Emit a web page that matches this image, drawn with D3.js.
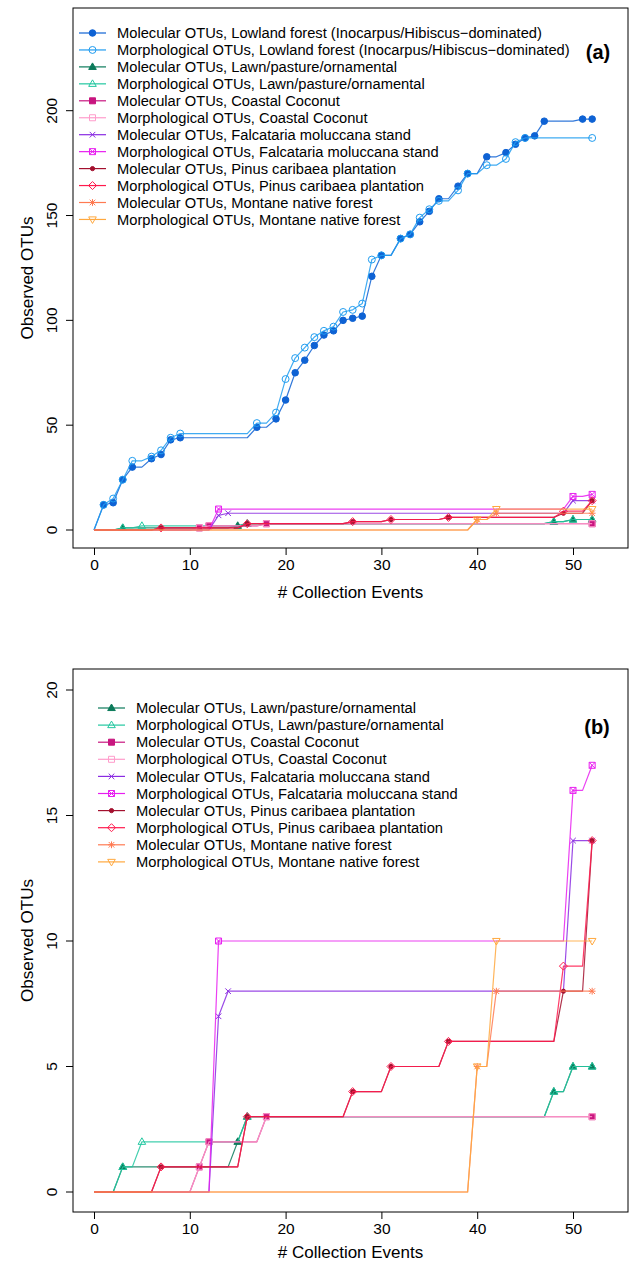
<!DOCTYPE html>
<html>
<head>
<meta charset="utf-8">
<script src="https://cdn.jsdelivr.net/npm/d3@7"></script>
<style>
  html, body { margin: 0; padding: 0; background: #ffffff; }
  svg { display: block; }
  text { font-family: "Liberation Sans", Arial, Helvetica, sans-serif; fill: #000; }
</style>
</head>
<body>
<svg id="chart" width="643" height="1266"></svg>
<script>
// ---------------- DATA ----------------
const events = [0,1,2,3,4,5,6,7,8,9,10,11,12,13,14,15,16,17,18,19,20,21,22,23,24,25,26,27,28,29,30,31,32,33,34,35,36,37,38,39,40,41,42,43,44,45,46,47,48,49,50,51,52];

const lowlandMol = [0,12,13,24,30,30,34,36,43,44, 44,44,44,44,44,44,44,49,49,53, 62,75,81,88,93,95,100,101,102,121, 131,131,139,141,147,152,158,158,164,170, 170,178,178,180,184,187,188,195,195,195, 195,196,196];
const lowlandMorph = [0,12,15,24,33,33,35,38,44,46, 46,46,46,46,46,46,46,51,51,56, 72,82,87,92,95,97,104,105,108,129, 131,131,139,141,149,153,157,157,162,170, 170,174,174,177,185,187,187,187,187,187, 187,187,187];
const lawnMol = [0,0,0,1,1,1,1,1,1,1, 1,1,1,1,1,2,3,3,3,3, 3,3,3,3,3,3,3,3,3,3, 3,3,3,3,3,3,3,3,3,3, 3,3,3,3,3,3,3,3,4,4, 5,5,5];
const lawnMorph = [0,0,0,1,1,2,2,2,2,2, 2,2,2,2,2,2,3,3,3,3, 3,3,3,3,3,3,3,3,3,3, 3,3,3,3,3,3,3,3,3,3, 3,3,3,3,3,3,3,3,4,4, 5,5,5];
const coastalMol = [0,0,0,0,0,0,0,0,0,0, 0,1,2,2,2,2,2,2,3,3, 3,3,3,3,3,3,3,3,3,3, 3,3,3,3,3,3,3,3,3,3, 3,3,3,3,3,3,3,3,3,3, 3,3,3];
const coastalMorph = [0,0,0,0,0,0,0,0,0,0, 0,1,2,2,2,2,2,2,3,3, 3,3,3,3,3,3,3,3,3,3, 3,3,3,3,3,3,3,3,3,3, 3,3,3,3,3,3,3,3,3,3, 3,3,3];
const falcMol = [0,0,0,0,0,0,0,0,0,0, 0,0,0,7,8,8,8,8,8,8, 8,8,8,8,8,8,8,8,8,8, 8,8,8,8,8,8,8,8,8,8, 8,8,8,8,8,8,8,8,8,8, 14,14,14];
const falcMorph = [0,0,0,0,0,0,0,0,0,0, 0,0,0,10,10,10,10,10,10,10, 10,10,10,10,10,10,10,10,10,10, 10,10,10,10,10,10,10,10,10,10, 10,10,10,10,10,10,10,10,10,10, 16,16,17];
const pinusMol = [0,0,0,0,0,0,0,1,1,1, 1,1,1,1,1,1,3,3,3,3, 3,3,3,3,3,3,3,4,4,4, 4,5,5,5,5,5,5,6,6,6, 6,6,6,6,6,6,6,6,6,8, 8,8,14];
const pinusMorph = [0,0,0,0,0,0,0,1,1,1, 1,1,1,1,1,1,3,3,3,3, 3,3,3,3,3,3,3,4,4,4, 4,5,5,5,5,5,5,6,6,6, 6,6,6,6,6,6,6,6,6,9, 9,9,14];
const montaneMol = [0,0,0,0,0,0,0,0,0,0, 0,0,0,0,0,0,0,0,0,0, 0,0,0,0,0,0,0,0,0,0, 0,0,0,0,0,0,0,0,0,0, 5,5,8,8,8,8,8,8,8,8, 8,8,8];
const montaneMorph = [0,0,0,0,0,0,0,0,0,0, 0,0,0,0,0,0,0,0,0,0, 0,0,0,0,0,0,0,0,0,0, 0,0,0,0,0,0,0,0,0,0, 5,5,10,10,10,10,10,10,10,10, 10,10,10];

const seriesLabels = [
  "Molecular OTUs, Lowland forest (Inocarpus/Hibiscus\u2212dominated)",
  "Morphological OTUs, Lowland forest (Inocarpus/Hibiscus\u2212dominated)",
  "Molecular OTUs, Lawn/pasture/ornamental",
  "Morphological OTUs, Lawn/pasture/ornamental",
  "Molecular OTUs, Coastal Coconut",
  "Morphological OTUs, Coastal Coconut",
  "Molecular OTUs, Falcataria moluccana stand",
  "Morphological OTUs, Falcataria moluccana stand",
  "Molecular OTUs, Pinus caribaea plantation",
  "Morphological OTUs, Pinus caribaea plantation",
  "Molecular OTUs, Montane native forest",
  "Morphological OTUs, Montane native forest"
];
const seriesValues = [lowlandMol, lowlandMorph, lawnMol, lawnMorph, coastalMol, coastalMorph,
                      falcMol, falcMorph, pinusMol, pinusMorph, montaneMol, montaneMorph];
const seriesColors = ["#0e62d4", "#1f9cf0", "#0b7a5a", "#22c7a0", "#c8157f", "#ff9ccb",
                      "#8a2be2", "#e81ef0", "#a3102e", "#ff1a4d", "#ff7a52", "#ffa83e"];
const seriesMarkers = ["circleFilled", "circleOpen", "triFilled", "triOpen", "squareFilled", "squareOpen",
                       "cross", "boxCross", "dot", "diamondOpen", "asterisk", "triDown"];

const xTicks = [0, 10, 20, 30, 40, 50];
const yTicksA = [0, 50, 100, 150, 200];
const yTicksB = [0, 5, 10, 15, 20];

// ---------------- DRAWING ----------------
const svg = d3.select("#chart");
svg.append("rect").attr("width", 643).attr("height", 1266).attr("fill", "#fff");

function markerShape(type) {
  const s = 3.4;
  switch (type) {
    case "circleFilled": return {d: d3.symbol(d3.symbolCircle, 34)(), fill: true};
    case "circleOpen":   return {d: d3.symbol(d3.symbolCircle, 38)(), fill: false};
    case "dot":          return {d: d3.symbol(d3.symbolCircle, 14)(), fill: true};
    case "triFilled":    return {d: `M0,${-s-0.6}L${s+0.4},${s*0.75}L${-s-0.4},${s*0.75}Z`, fill: true};
    case "triOpen":      return {d: `M0,${-s-0.6}L${s+0.4},${s*0.75}L${-s-0.4},${s*0.75}Z`, fill: false};
    case "triDown":      return {d: `M0,${s+0.6}L${s+0.4},${-s*0.75}L${-s-0.4},${-s*0.75}Z`, fill: false};
    case "squareFilled": return {d: `M${-s+0.4},${-s+0.4}H${s-0.4}V${s-0.4}H${-s+0.4}Z`, fill: true};
    case "squareOpen":   return {d: `M${-s+0.4},${-s+0.4}H${s-0.4}V${s-0.4}H${-s+0.4}Z`, fill: false};
    case "cross":        return {d: `M${-s+0.6},${-s+0.6}L${s-0.6},${s-0.6}M${-s+0.6},${s-0.6}L${s-0.6},${-s+0.6}`, fill: false};
    case "boxCross":     return {d: `M${-s+0.4},${-s+0.4}H${s-0.4}V${s-0.4}H${-s+0.4}ZM${-s+0.4},${-s+0.4}L${s-0.4},${s-0.4}M${-s+0.4},${s-0.4}L${s-0.4},${-s+0.4}`, fill: false};
    case "diamondOpen":  return {d: `M0,${-s-0.6}L${s+0.6},0L0,${s+0.6}L${-s-0.6},0Z`, fill: false};
    case "asterisk":     return {d: `M${-s+0.6},${-s+0.6}L${s-0.6},${s-0.6}M${-s+0.6},${s-0.6}L${s-0.6},${-s+0.6}M0,${-s}V${s}M${-s},0H${s}`, fill: false};
  }
}

function drawMarker(g, type, color, x, y) {
  const m = markerShape(type);
  g.append("path")
    .attr("d", m.d)
    .attr("transform", `translate(${x},${y})`)
    .attr("fill", m.fill ? color : "none")
    .attr("stroke", color)
    .attr("stroke-width", 1);
}

const font = "'Liberation Sans', Arial, Helvetica, sans-serif";

function drawPanel(cfg) {
  const g = svg.append("g");
  const x = d3.scaleLinear().domain([0, 50]).range([94, 573]);
  const y = d3.scaleLinear().domain(cfg.yDomain).range(cfg.yRange);

  // box
  g.append("rect")
    .attr("x", cfg.box[0]).attr("y", cfg.box[1])
    .attr("width", cfg.box[2] - cfg.box[0]).attr("height", cfg.box[3] - cfg.box[1])
    .attr("fill", "none").attr("stroke", "#000").attr("stroke-width", 1);

  // x axis ticks
  const xAxis = d3.axisBottom(x).tickValues(xTicks).tickSize(7).tickPadding(4).tickFormat(d3.format("d"));
  const xg = g.append("g").attr("transform", `translate(0,${cfg.box[3]})`).call(xAxis);
  xg.select(".domain").remove();
  xg.selectAll("text").attr("font-size", 15.5).attr("font-family", font).attr("fill", "#000");
  xg.selectAll("line").attr("stroke", "#000");

  // y axis ticks (labels parallel to the axis)
  const yAxis = d3.axisLeft(y).tickValues(cfg.yTicks).tickSize(7).tickFormat(d3.format("d"));
  const yg = g.append("g").attr("transform", `translate(${cfg.box[0]},0)`).call(yAxis);
  yg.select(".domain").remove();
  yg.selectAll("line").attr("stroke", "#000");
  yg.selectAll(".tick").attr("transform", "translate(0,0)");
  yg.selectAll(".tick line").attr("y1", d => y(d)).attr("y2", d => y(d));
  yg.selectAll(".tick text")
    .attr("font-size", 15.5).attr("font-family", font).attr("fill", "#000")
    .attr("text-anchor", "middle").attr("x", 0).attr("y", 0).attr("dy", "0.35em")
    .attr("transform", d => `translate(${52 - cfg.box[0]},${y(d)}) rotate(-90)`);

  // axis titles
  g.append("text").attr("x", (cfg.box[0] + cfg.box[2]) / 2).attr("y", cfg.xTitleY)
    .attr("text-anchor", "middle").attr("font-size", 17).attr("font-family", font)
    .text("# Collection Events");
  const yMid = (cfg.box[1] + cfg.box[3]) / 2;
  g.append("text").attr("transform", `translate(33,${yMid}) rotate(-90)`)
    .attr("text-anchor", "middle").attr("font-size", 17).attr("font-family", font)
    .text("Observed OTUs");

  // series
  const line = d3.line().x((d, i) => x(events[i])).y(d => y(d));
  cfg.indices.forEach(si => {
    const vals = seriesValues[si];
    const color = seriesColors[si];
    g.append("path").datum(vals).attr("d", line)
      .attr("fill", "none").attr("stroke", color).attr("stroke-width", 1.2)
      .attr("stroke-opacity", 0.85).attr("stroke-linejoin", "round");
    const mg = g.append("g");
    vals.forEach((v, i) => {
      if ((i > 0 && v !== vals[i - 1]) || i === vals.length - 1) {
        drawMarker(mg, seriesMarkers[si], color, x(events[i]), y(v));
      }
    });
  });

  // legend
  const lg = g.append("g");
  cfg.indices.forEach((si, k) => {
    const yy = cfg.legendY + k * cfg.legendStep;
    const color = seriesColors[si];
    lg.append("line").attr("x1", cfg.legendX).attr("x2", cfg.legendX + 27)
      .attr("y1", yy).attr("y2", yy).attr("stroke", color).attr("stroke-width", 1.2);
    drawMarker(lg, seriesMarkers[si], color, cfg.legendX + 13.5, yy);
    lg.append("text").attr("x", cfg.legendX + 38).attr("y", yy).attr("dy", "0.35em")
      .attr("font-size", 14.7).attr("font-family", font).text(seriesLabels[si]);
  });

  g.append("text").attr("x", cfg.labelX).attr("y", cfg.labelY).attr("text-anchor", "middle")
    .attr("font-size", 20).attr("font-weight", "bold").attr("font-family", font)
    .text(cfg.label);
}

drawPanel({
  yDomain: [0, 200], yRange: [530, 110.7], yTicks: yTicksA,
  box: [73, 8, 628, 548], xTitleY: 598,
  indices: [0,1,2,3,4,5,6,7,8,9,10,11],
  legendX: 79, legendY: 33, legendStep: 16.95,
  label: "(a)", labelX: 598, labelY: 59
});

drawPanel({
  yDomain: [0, 20], yRange: [1192, 690], yTicks: yTicksB,
  box: [73, 669, 628, 1212], xTitleY: 1258,
  indices: [2,3,4,5,6,7,8,9,10,11],
  legendX: 98, legendY: 708, legendStep: 17.1,
  label: "(b)", labelX: 597, labelY: 734
});
</script>
</body>
</html>
